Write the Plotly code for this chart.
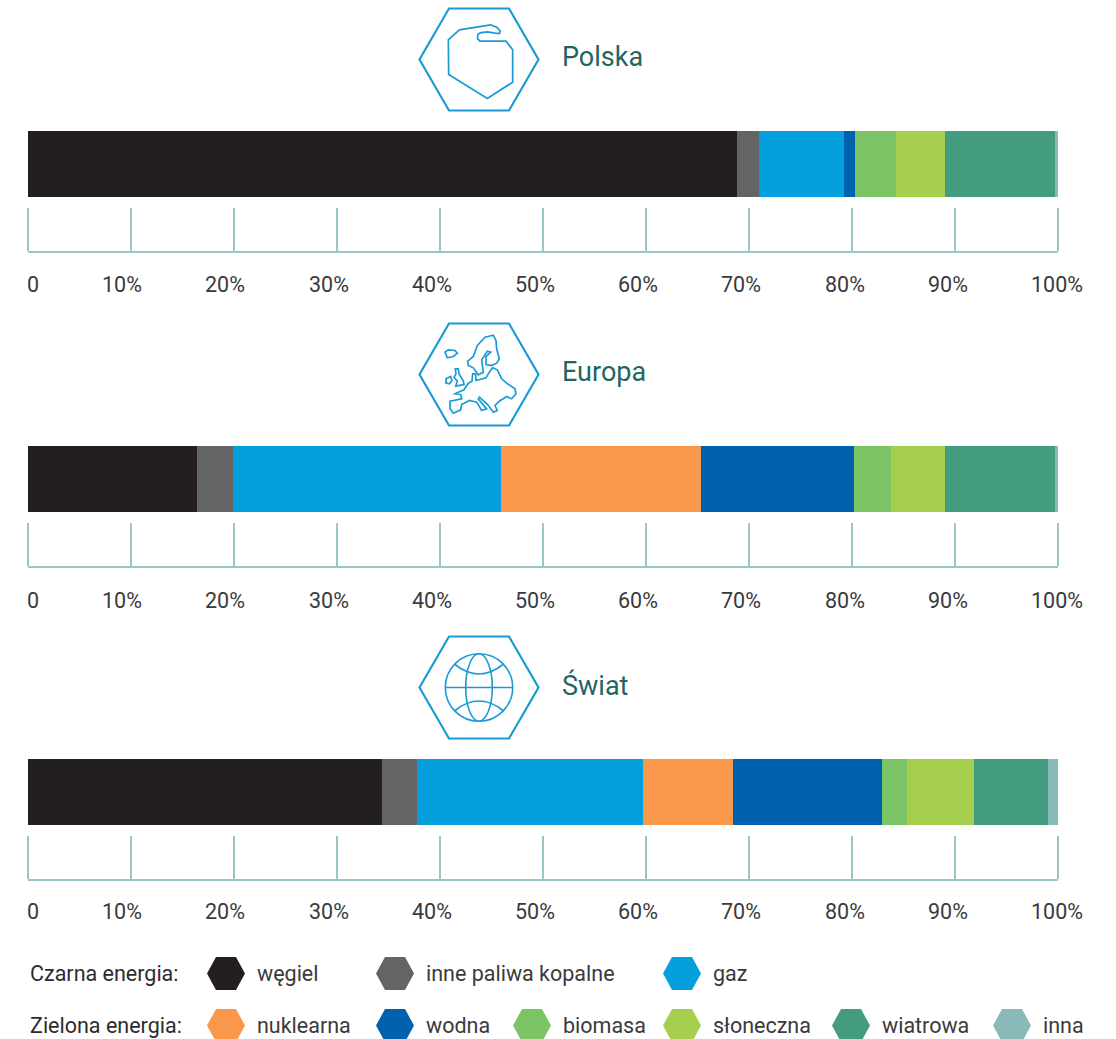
import plotly.graph_objects as go

W, H = 1116, 1039
categories = ["węgiel", "inne paliwa kopalne", "gaz", "nuklearna", "wodna",
              "biomasa", "słoneczna", "wiatrowa", "inna"]
colors = ["#231f20", "#636466", "#069fdd", "#f9974a", "#0061ae",
          "#7bc566", "#a6cf4e", "#439c80", "#89b9b8"]
polska = [68.8, 2.15, 8.25, 0, 1.05, 4.0, 4.75, 10.75, 0.25]
europa = [16.4, 3.55, 25.95, 19.4, 14.9, 3.6, 5.2, 10.7, 0.3]
swiat = [34.4, 3.35, 21.95, 8.75, 14.45, 2.4, 6.55, 7.15, 1.0]
regions = ["Polska", "Europa", "Świat"]
tick_vals = [0, 10, 20, 30, 40, 50, 60, 70, 80, 90, 100]
tick_text = ["0", "10%", "20%", "30%", "40%", "50%", "60%", "70%", "80%", "90%", "100%"]

FONT = "Roboto"
TXT = "#3a3a3c"
TEAL = "#1f6660"
BLUE = "#1b9ad6"
AXC = "#97c6c6"

def px(x): return x / W
def py(y): return 1 - y / H
def path(pts, close=True):
    s = "M " + " L ".join(f"{px(x):.5f},{py(y):.5f}" for x, y in pts)
    return s + (" Z" if close else "")

fig = go.Figure()
shapes, annotations = [], []
label_shift = [5, -9, -9, -8.5, -8.5, -8.5, -8, -8, -7.5, -7, -1]
panels = [(polska, 131, 59.5, -31.5), (europa, 446, 374.5, -31.5), (swiat, 759, 687.5, -29.5)]
xdom = [px(28), px(1058)]

for i, (vals, top, icon_y, lab_y) in enumerate(panels):
    a = 2 * i + 1
    b = 2 * i + 2
    xa, ya = f"x{a}", f"y{a}"
    xb, yb = f"x{b}", f"y{b}"
    for c, color, v in zip(categories, colors, vals):
        fig.add_trace(go.Bar(x=[v], y=[regions[i]], orientation="h", name=c,
                             marker=dict(color=color, line=dict(width=0)),
                             xaxis=xa, yaxis=ya, showlegend=False))
    fig.update_layout({
        f"xaxis{a}": dict(domain=xdom, range=[0, 100], visible=False, anchor=ya),
        f"yaxis{a}": dict(domain=[py(top + 66), py(top)], visible=False, anchor=xa,
                          type="category"),
        f"xaxis{b}": dict(domain=xdom, range=[0, 100], anchor=yb, side="top", showgrid=False,
                          zeroline=False, tickmode="array", tickvals=tick_vals,
                          showticklabels=False, ticks="outside", ticklen=43,
                          tickwidth=2, tickcolor=AXC, showline=True,
                          linecolor=AXC, linewidth=2),
        f"yaxis{b}": dict(domain=[py(top + 122.5), py(top + 121.5)], range=[0, 1],
                          visible=False, anchor=xb),
    })
    # tick labels
    for v, t, s in zip(tick_vals, tick_text, label_shift):
        annotations.append(dict(x=v, y=0, xref=xb, yref=yb, text=t, showarrow=False,
                                xanchor="center", yanchor="middle", xshift=s, yshift=lab_y,
                                font=dict(family=FONT, size=21.5, color=TXT)))
    # title
    annotations.append(dict(x=px(559.5), y=py(icon_y - 2), xref="paper", yref="paper",
                            text=regions[i], showarrow=False, xanchor="left", yanchor="middle",
                            font=dict(family=FONT, size=27, color=TEAL)))
    # hexagon frame
    hexa = [(449, icon_y - 51), (509, icon_y - 51), (538.5, icon_y), (509, icon_y + 51),
            (449, icon_y + 51), (419.5, icon_y)]
    shapes.append(dict(type="path", path=path(hexa), xref="paper", yref="paper",
                       line=dict(color=BLUE, width=2.2)))

def icon_line(pts, ox, oy, width=1.7):
    p = [(ox + x / 3, oy + y / 3) for x, y in pts]
    shapes.append(dict(type="path", path=path(p), xref="paper", yref="paper",
                       line=dict(color=BLUE, width=width)))

# Poland outline
icon_line([(145, 118), (178, 88), (272, 73), (290, 80), (301, 92), (298, 99), (285, 98), (262, 94),
           (240, 97), (233, 103), (233, 115), (240, 122), (318, 122), (338, 148), (338, 245),
           (262, 294), (146, 222)], 400, 0.5)

# Europe outline
ox, oy = 440, 330.5
icon_line([(15, 65), (25, 58), (45, 60), (52, 68), (40, 78), (22, 82)], ox, oy)
icon_line([(18, 145), (32, 138), (36, 150), (28, 160), (18, 158)], ox, oy)
icon_line([(46, 115), (55, 115), (57, 130), (70, 152), (72, 162), (47, 167), (52, 152),
           (42, 140), (48, 130)], ox, oy)
icon_line([(83, 92), (100, 78), (112, 45), (135, 20), (160, 14), (168, 30), (170, 55), (178, 85),
           (170, 98), (155, 105), (138, 102), (138, 78), (152, 65), (142, 62), (125, 88),
           (130, 125), (115, 133), (100, 112), (85, 105)], ox, oy)
icon_line([(45, 190), (55, 185), (72, 178), (85, 158), (96, 152), (98, 130), (107, 130), (108, 150),
           (138, 142), (148, 125), (158, 112), (172, 118), (185, 145), (200, 158), (225, 175),
           (228, 190), (215, 205), (200, 198), (178, 212), (165, 225), (172, 240), (160, 245),
           (143, 222), (118, 200), (115, 206), (140, 235), (125, 240), (110, 215), (88, 210),
           (65, 222), (62, 238), (40, 248), (30, 235), (30, 212), (65, 205), (62, 192)], ox, oy)

# Globe
gx, gy, r = 479, 687.5, 33.7
shapes.append(dict(type="circle", xref="paper", yref="paper", x0=px(gx - r), x1=px(gx + r),
                   y0=py(gy + r), y1=py(gy - r), line=dict(color=BLUE, width=1.6)))
shapes.append(dict(type="circle", xref="paper", yref="paper", x0=px(gx - 13.3), x1=px(gx + 13.3),
                   y0=py(gy + r), y1=py(gy - r), line=dict(color=BLUE, width=1.6)))
shapes.append(dict(type="line", xref="paper", yref="paper", x0=px(gx - r), x1=px(gx + r),
                   y0=py(gy), y1=py(gy), line=dict(color=BLUE, width=1.6)))
for y_edge, y_ctrl in [(gy - 23, gy - 9), (gy + 23, gy + 9)]:
    shapes.append(dict(type="path", xref="paper", yref="paper",
                       path=f"M {px(gx - 24):.5f},{py(y_edge):.5f} Q {px(gx):.5f},{py(y_ctrl - (y_edge - y_ctrl) * 0.35):.5f} {px(gx + 24):.5f},{py(y_edge):.5f}",
                       line=dict(color=BLUE, width=1.6)))

# Legend
for text, y in [("Czarna energia:", 973), ("Zielona energia:", 1025)]:
    annotations.append(dict(x=px(28), y=py(y), xref="paper", yref="paper", text=text,
                            showarrow=False, xanchor="left", yanchor="middle",
                            font=dict(family=FONT, size=21.5, color="#2c2c2e")))
legend_pos = {0: (226, 973.5), 1: (395, 973.5), 2: (682, 973.5), 3: (226, 1025.5), 4: (395, 1025.5),
              5: (532, 1025.5), 6: (682, 1025.5), 7: (851, 1025.5), 8: (1012, 1025.5)}
for idx, (cx, cy) in legend_pos.items():
    pts = [(cx - 19, cy), (cx - 10, cy - 16.5), (cx + 10, cy - 16.5), (cx + 19, cy),
           (cx + 10, cy + 16.5), (cx - 10, cy + 16.5)]
    shapes.append(dict(type="path", path=path(pts), xref="paper", yref="paper",
                       fillcolor=colors[idx], line=dict(width=0)))
    annotations.append(dict(x=px(cx + 28.5), y=py(cy - 0.5), xref="paper", yref="paper",
                            text=categories[idx], showarrow=False, xanchor="left", yanchor="middle",
                            font=dict(family=FONT, size=21.5, color=TXT)))

fig.update_layout(width=W, height=H, margin=dict(l=0, r=0, t=0, b=0), autosize=False,
                  barmode="stack", bargap=0, showlegend=False, paper_bgcolor="white",
                  plot_bgcolor="white", shapes=shapes, annotations=annotations,
                  font=dict(family=FONT))
fig.write_html("out.html", config={"displayModeBar": False},
               post_script="document.body.style.margin='0';document.documentElement.style.overflow='hidden';")
